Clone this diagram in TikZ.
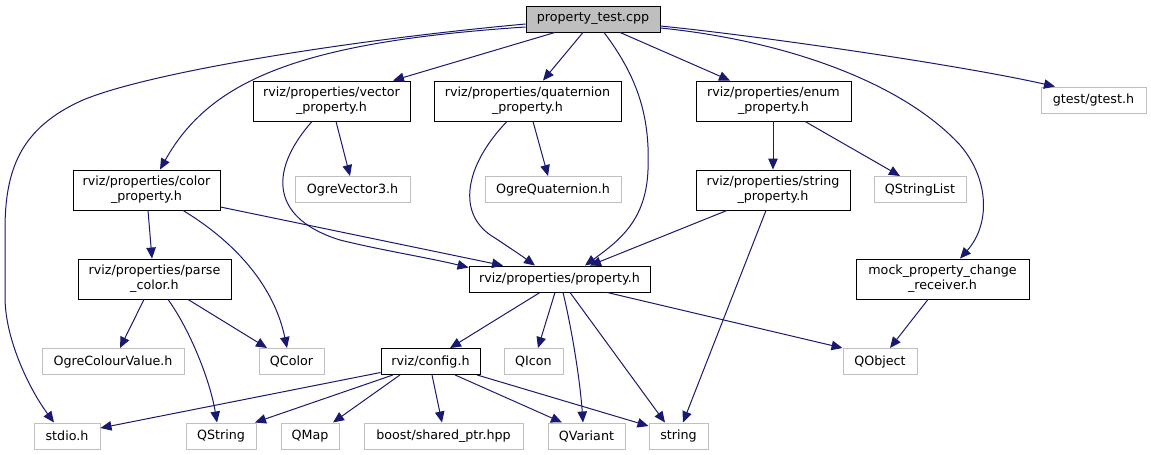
\documentclass[tikz,border=0pt]{standalone}
\usepackage{fontspec}
\setmainfont{DejaVu Sans}
\usetikzlibrary{arrows.meta}
\definecolor{edgeblue}{RGB}{25,25,112}
\definecolor{extgray}{RGB}{191,191,191}
\begin{document}
\begin{tikzpicture}[x=1pt,y=-1pt,
  box/.style={rectangle, inner sep=0pt, align=center, font=\fontsize{12.7}{14.7}\selectfont},
  doc/.style={box, draw=black, line width=0.9pt, fill=white, minimum height=40pt},
  doc1/.style={box, draw=black, line width=0.9pt, fill=white, minimum height=26pt},
  ext/.style={box, draw=extgray, line width=1pt, fill=white, minimum height=26pt},
  rootbox/.style={box, draw=black, line width=0.9pt, fill=extgray, minimum height=26pt},
  edge/.style={draw=edgeblue, line width=1pt, -{Triangle[length=11pt,width=9.5pt]}}]
\useasboundingbox (0,0) rectangle (1151,455);
% nodes
\node[rootbox, minimum width=134pt] (root) at (593,19) {property\_test.cpp};
\node[doc, minimum width=157pt] (vec) at (331.5,101) {rviz/properties/vector\\\_property.h};
\node[doc, minimum width=187pt] (quat) at (527.5,101) {rviz/properties/quaternion\\\_property.h};
\node[doc, minimum width=155pt] (enum) at (773.5,101) {rviz/properties/enum\\\_property.h};
\node[ext, minimum width=105pt] (gtest) at (1093.5,100) {gtest/gtest.h};
\node[doc, minimum width=147pt] (color) at (146.5,190) {rviz/properties/color\\\_property.h};
\node[ext, minimum width=115pt] (ov3) at (352.5,189.5) {OgreVector3.h};
\node[ext, minimum width=136pt] (oq) at (553,189.5) {OgreQuaternion.h};
\node[doc, minimum width=154pt] (str) at (773,190) {rviz/properties/string\\\_property.h};
\node[ext, minimum width=92pt] (qsl) at (920,189.5) {QStringList};
\node[doc, minimum width=153pt] (parse) at (154.5,279) {rviz/properties/parse\\\_color.h};
\node[doc1, minimum width=181pt] (prop) at (559.5,279) {rviz/properties/property.h};
\node[doc, minimum width=173pt] (mock) at (942.5,279) {mock\_property\_change\\\_receiver.h};
\node[ext, minimum width=142pt] (ocv) at (113,361.5) {OgreColourValue.h};
\node[ext, minimum width=65pt] (qcolor) at (291.5,361.5) {QColor};
\node[doc1, minimum width=99pt] (config) at (430.5,361.5) {rviz/config.h};
\node[ext, minimum width=59pt] (qicon) at (533.5,361.5) {QIcon};
\node[ext, minimum width=74pt] (qobject) at (880,361.5) {QObject};
\node[ext, minimum width=66pt] (stdio) at (67,436) {stdio.h};
\node[ext, minimum width=70pt] (qstring) at (221,436) {QString};
\node[ext, minimum width=58pt] (qmap) at (310,436) {QMap};
\node[ext, minimum width=159pt] (boost) at (443.5,436) {boost/shared\_ptr.hpp};
\node[ext, minimum width=77pt] (qvariant) at (586.5,436) {QVariant};
\node[ext, minimum width=59pt] (string) at (678.5,436) {string};
% edges from root
\path[edge] ([yshift=-5pt]root.west) .. controls (350,40) and (150,72) .. (83,100)
  .. controls (20,128) and (5,170) .. (5,230) -- (5,297)
  .. controls (5,340) and (30,390) .. ([xshift=-13pt]stdio.north);
\path[edge] ([yshift=-8pt]root.west) .. controls (300,42) and (210,80) .. ([xshift=13.5pt]color.north);
\path[edge] ([xshift=-38pt]root.south) -- ([xshift=61.5pt]vec.north);
\path[edge] ([xshift=-10pt]root.south) -- ([xshift=15.5pt]quat.north);
\path[edge] ([xshift=11pt]root.south) .. controls (640,80) and (650,120) .. (648,170)
  .. controls (646,220) and (620,240) .. ([xshift=25.5pt]prop.north);
\path[edge] ([xshift=27pt]root.south) -- ([xshift=-43.5pt]enum.north);
\path[edge] ([yshift=-9pt]root.east) .. controls (780,40) and (900,80) .. (960,145)
  .. controls (990,180) and (990,225) .. ([xshift=17.5pt]mock.north);
\path[edge] ([yshift=-7pt]root.east) .. controls (760,36) and (960,65) .. ([xshift=-38.5pt]gtest.north);
% second level
\path[edge] ([xshift=4.5pt]vec.south) -- ([xshift=-2.5pt]ov3.north);
\path[edge] ([xshift=-19.5pt]vec.south) .. controls (265,175) and (275,220) .. (340,240)
  .. controls (380,250) and (430,258) .. ([yshift=-2pt]prop.north west);
\path[edge] ([xshift=5.5pt]quat.south) -- ([xshift=-5pt]oq.north);
\path[edge] ([xshift=-20.5pt]quat.south) .. controls (465,165) and (455,215) .. (495,238)
  .. controls (510,248) and (522,256) .. ([xshift=-24.5pt]prop.north);
\path[edge] ([xshift=-0.5pt]enum.south) -- (str.north);
\path[edge] ([xshift=31.5pt]enum.south) -- ([xshift=-20pt]qsl.north);
\path[edge] ([xshift=-46pt]str.south) -- ([xshift=30.5pt]prop.north);
\path[edge] ([xshift=-7pt]str.south) -- ([xshift=4.5pt]string.north);
\path[edge] ([yshift=-17pt]color.east) -- ([xshift=-56.5pt]prop.north);
\path[edge] ([xshift=1.5pt]color.south) -- ([xshift=-2.5pt]parse.north);
\path[edge] ([xshift=36.5pt]color.south) .. controls (240,245) and (275,290) .. ([xshift=-4.5pt]qcolor.north);
\path[edge] ([xshift=-10.5pt]parse.south) -- ([xshift=7pt]ocv.north);
\path[edge] ([xshift=33.5pt]parse.south) -- ([xshift=-24.5pt]qcolor.north);
\path[edge] ([xshift=13.5pt]parse.south) .. controls (190,330) and (210,380) .. ([xshift=-4pt]qstring.north);
% property.h
\path[edge] ([xshift=-19.5pt]prop.south) -- ([xshift=19.5pt]config.north);
\path[edge] ([xshift=-4.5pt]prop.south) -- ([xshift=4.5pt]qicon.north);
\path[edge] ([xshift=3.5pt]prop.south) .. controls (572,330) and (580,380) .. ([xshift=-3.5pt]qvariant.north);
\path[edge] ([xshift=10.5pt]prop.south) -- ([xshift=-13.5pt]string.north);
\path[edge] ([xshift=47.5pt]prop.south) -- (qobject.north west);
\path[edge] ([xshift=-14.5pt]mock.south) -- ([xshift=10pt]qobject.north);
% config.h
\path[edge] ([yshift=-11pt]config.west) -- ([yshift=8pt]stdio.east);
\path[edge] ([xshift=-37.5pt]config.south) -- ([xshift=34pt]qstring.north);
\path[edge] ([xshift=-30.5pt]config.south) -- ([xshift=23pt]qmap.north);
\path[edge] ([xshift=1.5pt]config.south) -- ([xshift=-1.5pt]boost.north);
\path[edge] ([xshift=24.5pt]config.south) -- ([xshift=-24.5pt]qvariant.north);
\path[edge] ([xshift=46.5pt]config.south) -- ([yshift=10pt]string.west);
\end{tikzpicture}
\end{document}
